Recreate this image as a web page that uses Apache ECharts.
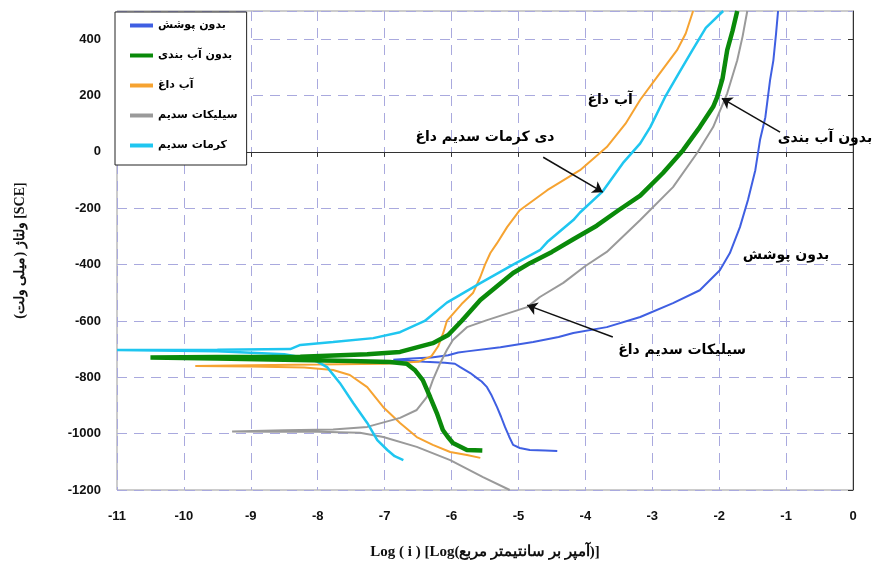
<!DOCTYPE html>
<html>
<head>
<meta charset="utf-8">
<script src="https://cdn.jsdelivr.net/npm/echarts@6/dist/echarts.min.js"></script>
<style>
html,body{margin:0;padding:0;background:#fff;}
#c{width:882px;height:573px;}
</style>
</head>
<body>
<div id="c"></div>
<script>
// Series names (legend)
const names = ['بدون پوشش', 'بدون آب بندی', 'آب داغ', 'سیلیکات سدیم', 'کرمات سدیم'];

// [log i, potential mV] pairs in scan order (cathodic end -> Ecorr -> anodic end)
const bareData = [[-4.42,-1062],[-4.6,-1060],[-4.83,-1058],[-4.98,-1051],[-5.08,-1040],[-5.14,-1010],[-5.20,-977],[-5.26,-940],[-5.32,-906],[-5.40,-865],[-5.47,-835],[-5.55,-815],[-5.62,-803],[-5.72,-785],[-5.87,-764],[-5.95,-752],[-6.1,-748],[-6.4,-745],[-6.87,-738],[-6.6,-733],[-6.3,-730],[-6.05,-722],[-5.9,-712],[-5.77,-708],[-5.27,-693],[-4.78,-675],[-4.40,-657],[-4.18,-643],[-3.68,-622],[-3.18,-586],[-2.69,-537],[-2.29,-491],[-1.99,-420],[-1.84,-359],[-1.69,-267],[-1.57,-171],[-1.46,-65],[-1.39,42],[-1.31,123],[-1.24,254],[-1.19,325],[-1.15,420],[-1.12,500]];

const noSealData = [[-5.54,-1060],[-5.77,-1058],[-5.98,-1033],[-6.06,-1010],[-6.13,-987],[-6.22,-927],[-6.32,-870],[-6.43,-810],[-6.55,-774],[-6.67,-752],[-6.92,-746],[-7.5,-742],[-8.5,-738],[-9.5,-733],[-10.5,-730],[-9.5,-728],[-8.26,-727],[-7.26,-718],[-6.77,-710],[-6.28,-679],[-6.05,-650],[-5.85,-600],[-5.57,-526],[-5.08,-430],[-4.83,-395],[-4.5,-355],[-4.18,-310],[-3.83,-262],[-3.51,-208],[-3.18,-155],[-2.84,-75],[-2.54,6],[-2.29,88],[-2.09,160],[-2.03,194],[-1.95,260],[-1.88,361],[-1.80,430],[-1.73,500]];

const hotWaterData = [[-5.57,-1086],[-5.77,-1076],[-6.02,-1065],[-6.28,-1040],[-6.52,-1012],[-6.77,-962],[-7.02,-906],[-7.26,-835],[-7.52,-792],[-7.77,-774],[-8.2,-765],[-9.0,-762],[-9.83,-760],[-9.0,-757],[-8.0,-755],[-7.0,-752],[-6.5,-745],[-6.3,-725],[-6.2,-690],[-6.12,-640],[-6.07,-600],[-5.85,-540],[-5.68,-501],[-5.57,-444],[-5.50,-400],[-5.42,-359],[-5.32,-324],[-5.17,-267],[-4.98,-207],[-4.57,-136],[-4.08,-65],[-3.68,17],[-3.40,100],[-3.18,185],[-2.93,265],[-2.63,361],[-2.5,420],[-2.39,500]];

const silicateData = [[-5.13,-1200],[-5.53,-1154],[-6.02,-1094],[-6.52,-1047],[-7.02,-1012],[-7.37,-997],[-8.0,-993],[-8.7,-993],[-9.28,-992],[-8.5,-988],[-7.77,-985],[-7.26,-976],[-6.77,-944],[-6.52,-916],[-6.37,-870],[-6.28,-810],[-6.17,-750],[-6.07,-703],[-5.98,-668],[-5.77,-622],[-5.47,-597],[-4.87,-551],[-4.68,-515],[-4.33,-465],[-4.0,-405],[-3.68,-355],[-3.18,-242],[-2.69,-125],[-2.33,-4],[-2.09,88],[-1.88,208],[-1.73,325],[-1.65,410],[-1.58,500]];

const chromateData = [[-6.72,-1094],[-6.85,-1080],[-6.96,-1058],[-7.11,-1023],[-7.26,-962],[-7.47,-891],[-7.67,-820],[-7.86,-764],[-8.0,-745],[-8.16,-732],[-8.5,-718],[-9.5,-708],[-11.0,-703],[-9.5,-702],[-8.41,-700],[-8.26,-685],[-7.77,-675],[-7.17,-661],[-6.77,-640],[-6.4,-600],[-6.07,-535],[-5.57,-466],[-5.08,-400],[-4.68,-349],[-4.57,-320],[-4.18,-242],[-4.08,-215],[-3.74,-140],[-3.44,-40],[-3.18,30],[-3.03,88],[-2.81,194],[-2.6,280],[-2.40,361],[-2.2,440],[-1.94,500]];

const seriesColors = ['#3f5fe2', '#0a8a0a', '#f6a331', '#9a9a9a', '#1fc6f0'];
const seriesWidths = [2, 4.5, 2, 2, 2.5];

// Annotation labels [x, y, text] and arrows [x1, y1, x2, y2]
const noteLabels = [
  [-3.63, 183, 'آب داغ'],
  [-5.5, 52, 'دی کرمات سدیم داغ'],
  [-0.42, 49, 'بدون آب بندی'],
  [-1.0, -366, 'بدون پوشش'],
  [-2.555, -703, 'سیلیکات سدیم داغ']
];
const noteArrows = [
  [-4.63, -19, -3.74, -143],
  [-1.09, 70, -1.96, 190],
  [-3.59, -657, -4.87, -544]
];

const xTicks = {min: -11, max: 0, interval: 1};
const yTicks = {min: -1200, max: 500, interval: 200};

const xName = 'Log ( i ) [Log(آمپر بر سانتیمتر مربع)]';
const yName = 'ولتاژ (میلی ولت) [SCE]';

const allData = [bareData, noSealData, hotWaterData, silicateData, chromateData];

const chart = echarts.init(document.getElementById('c'), null, {renderer: 'canvas'});
const tickFont = {fontFamily: "'Liberation Sans', Arial, sans-serif", fontWeight: 'bold', fontSize: 13, color: '#111'};
const gridLine = {show: true, lineStyle: {color: '#a9a9de', type: [10, 7], width: 1}};

const series = names.map((n, i) => ({
  name: n,
  type: 'line',
  data: allData[i],
  showSymbol: false,
  symbol: 'none',
  smooth: false,
  lineStyle: {color: seriesColors[i], width: seriesWidths[i]},
  itemStyle: {color: seriesColors[i]},
  z: i === 1 ? 4 : 3
}));

series.push({
  name: 'notes',
  type: 'scatter',
  data: noteLabels,
  symbolSize: 0,
  silent: true,
  z: 10,
  itemStyle: {opacity: 1, color: '#000'},
  label: {
    show: true,
    position: 'inside',
    formatter: p => p.value[2],
    fontFamily: "'DejaVu Sans', sans-serif",
    fontWeight: 'bold',
    fontSize: 14,
    color: '#000',
    opacity: 1
  },
  markLine: {
    silent: true,
    symbol: ['none', 'arrow'],
    symbolSize: 10,
    label: {show: false},
    lineStyle: {color: '#111', width: 1.5, type: 'solid', opacity: 1},
    emphasis: {disabled: true},
    data: noteArrows.map(a => [{coord: [a[0], a[1]]}, {coord: [a[2], a[3]]}])
  }
});

chart.setOption({
  animation: false,
  backgroundColor: '#fff',
  grid: {left: 117, right: 29, top: 11, bottom: 83, show: true, borderColor: '#999', borderWidth: 1, backgroundColor: 'transparent'},
  legend: {
    data: names,
    orient: 'vertical',
    left: 115,
    top: 12,
    padding: [8, 9, 14, 15],
    itemGap: 19,
    itemWidth: 23,
    itemHeight: 4,
    icon: 'rect',
    backgroundColor: '#fff',
    borderColor: '#222',
    borderWidth: 1,
    textStyle: {fontFamily: "'DejaVu Sans', sans-serif", fontWeight: 'bold', fontSize: 11, color: '#000'}
  },
  xAxis: {
    type: 'value',
    min: xTicks.min, max: xTicks.max, interval: xTicks.interval,
    name: xName,
    nameLocation: 'middle',
    nameGap: 55,
    nameTextStyle: {fontFamily: "'Liberation Serif', 'Times New Roman', serif", fontWeight: 'bold', fontSize: 15, color: '#111'},
    axisLine: {show: true, lineStyle: {color: '#333', width: 1}},
    axisTick: {show: true, length: 5, lineStyle: {color: '#333'}},
    axisLabel: Object.assign({margin: 20, formatter: v => String(v)}, tickFont),
    splitLine: gridLine
  },
  yAxis: {
    type: 'value',
    min: yTicks.min, max: yTicks.max, interval: yTicks.interval,
    name: yName,
    nameLocation: 'middle',
    nameGap: 90,
    nameTextStyle: {fontFamily: "'Liberation Serif', 'Times New Roman', serif", fontWeight: 'bold', fontSize: 14, color: '#111'},
    axisLine: {show: true, lineStyle: {color: '#333', width: 1}},
    axisTick: {show: true, length: 5, lineStyle: {color: '#333'}},
    axisLabel: Object.assign({margin: 16, showMaxLabel: false, formatter: v => String(v)}, tickFont),
    splitLine: gridLine
  },
  series: series
});
</script>
</body>
</html>
